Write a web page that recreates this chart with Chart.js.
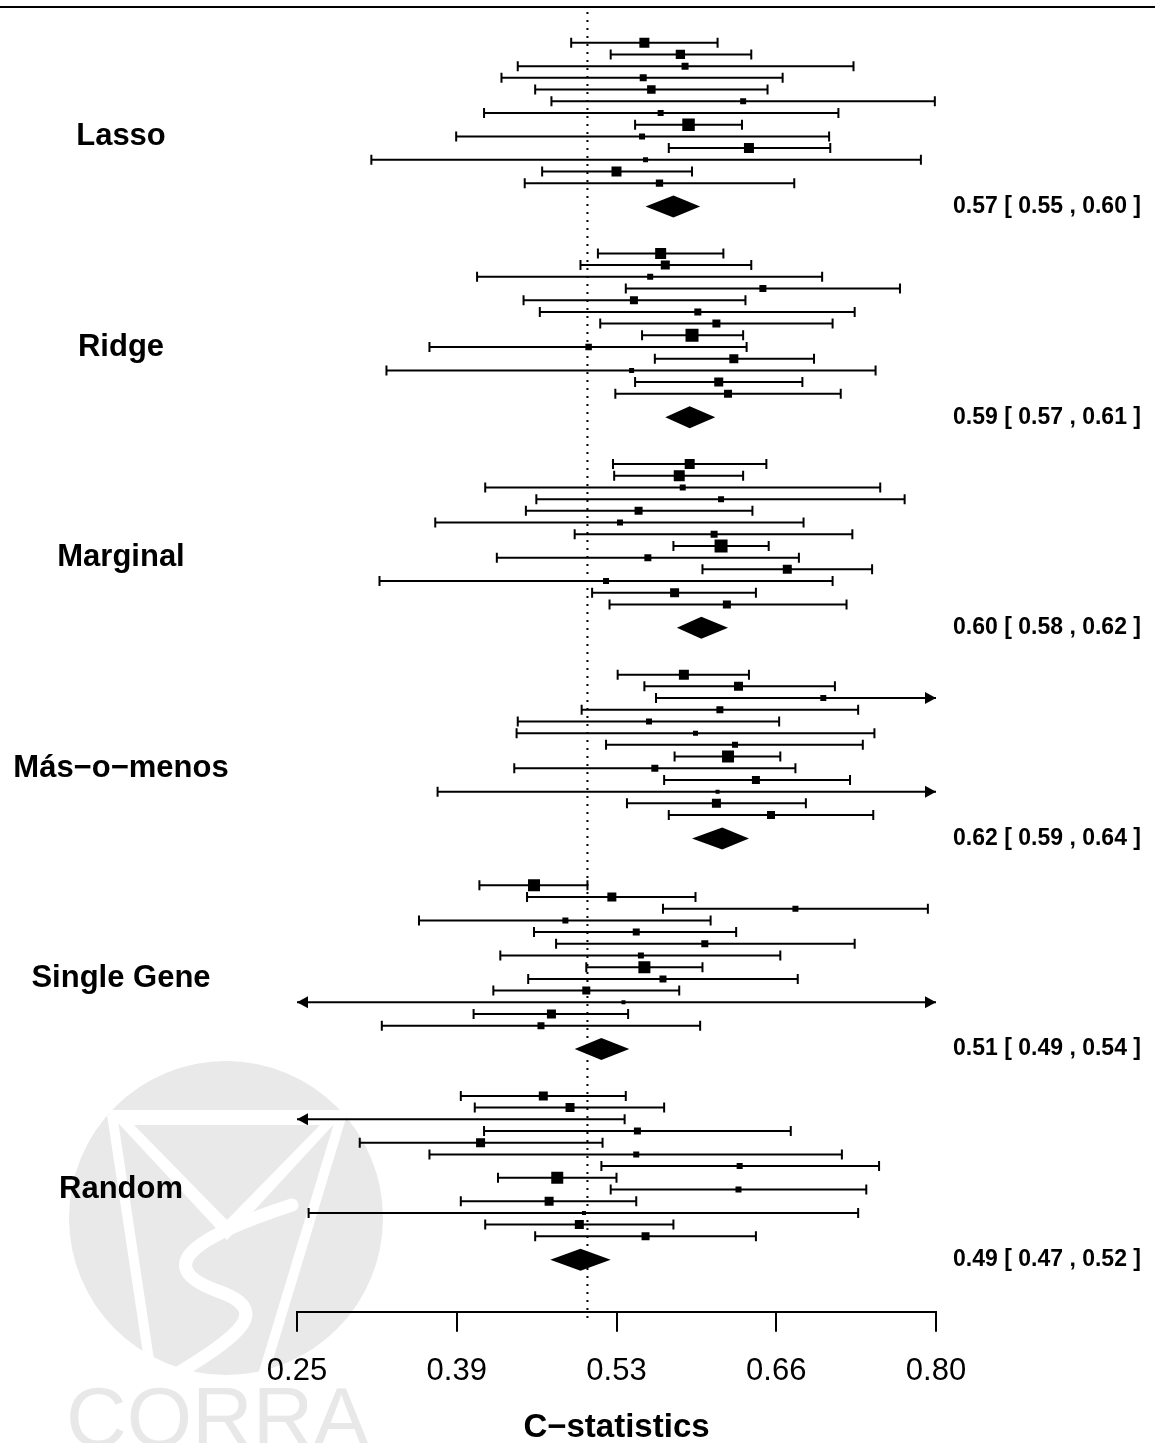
<!DOCTYPE html>
<html>
<head>
<meta charset="utf-8">
<script src="https://cdn.jsdelivr.net/npm/chart.js@4.4.1/dist/chart.umd.min.js"></script>
<style>
  html, body { margin: 0; padding: 0; background: #fff; }
  #wrap { width: 1155px; height: 1443px; position: relative; }
</style>
</head>
<body>
<div id="wrap"><canvas id="forest"></canvas></div>
<script>
// groups, top to bottom
const groupNames = ['Lasso', 'Ridge', 'Marginal', 'Más−o−menos', 'Single Gene', 'Random'];

// study rows: [lower, c-statistic, upper]
const lasso = [
  [0.486, 0.549, 0.612], [0.520, 0.580, 0.641], [0.440, 0.584, 0.729], [0.426, 0.548, 0.668],
  [0.455, 0.555, 0.655], [0.469, 0.634, 0.799], [0.411, 0.563, 0.716], [0.541, 0.587, 0.633],
  [0.387, 0.547, 0.708], [0.570, 0.639, 0.709], [0.314, 0.550, 0.787], [0.461, 0.525, 0.590],
  [0.446, 0.562, 0.678]
];
const ridge = [
  [0.509, 0.563, 0.617], [0.494, 0.567, 0.641], [0.405, 0.554, 0.702], [0.533, 0.651, 0.769],
  [0.445, 0.540, 0.636], [0.459, 0.595, 0.730], [0.511, 0.611, 0.711], [0.547, 0.590, 0.634],
  [0.364, 0.501, 0.637], [0.558, 0.626, 0.695], [0.327, 0.538, 0.748], [0.541, 0.613, 0.685],
  [0.524, 0.621, 0.718]
];
const marginal = [
  [0.522, 0.588, 0.654], [0.523, 0.579, 0.634], [0.412, 0.582, 0.752], [0.456, 0.615, 0.773],
  [0.447, 0.544, 0.642], [0.369, 0.528, 0.686], [0.489, 0.609, 0.728], [0.574, 0.615, 0.656],
  [0.422, 0.552, 0.682], [0.599, 0.672, 0.745], [0.321, 0.516, 0.711], [0.504, 0.575, 0.645],
  [0.519, 0.620, 0.723]
];
const masOMenos = [
  [0.526, 0.583, 0.639], [0.549, 0.630, 0.713], [0.559, 0.703, 0.847], [0.495, 0.614, 0.733],
  [0.440, 0.553, 0.665], [0.439, 0.593, 0.747], [0.516, 0.627, 0.737], [0.575, 0.621, 0.666],
  [0.437, 0.558, 0.679], [0.566, 0.645, 0.726], [0.371, 0.612, 0.853], [0.534, 0.611, 0.688],
  [0.570, 0.658, 0.746]
];
const singleGene = [
  [0.407, 0.454, 0.500], [0.448, 0.521, 0.593], [0.565, 0.679, 0.793], [0.355, 0.481, 0.606],
  [0.454, 0.542, 0.628], [0.473, 0.601, 0.730], [0.425, 0.546, 0.666], [0.499, 0.549, 0.599],
  [0.449, 0.565, 0.681], [0.419, 0.499, 0.579], [0.200, 0.531, 0.860], [0.402, 0.469, 0.535],
  [0.323, 0.460, 0.597]
];
const random = [
  [0.391, 0.462, 0.533], [0.403, 0.485, 0.566], [-0.050, 0.240, 0.532], [0.411, 0.543, 0.675],
  [0.304, 0.408, 0.513], [0.364, 0.542, 0.719], [0.512, 0.631, 0.751], [0.423, 0.474, 0.525],
  [0.520, 0.630, 0.740], [0.391, 0.467, 0.542], [0.260, 0.497, 0.733], [0.412, 0.493, 0.574],
  [0.455, 0.550, 0.645]
];

// relative study weights (box size)
const lassoW      = [10, 9.3, 7, 7, 8.5, 6, 6, 12.5, 6, 10, 5, 10, 7.3];
const ridgeW      = [11, 9, 6, 7, 8, 7, 8, 13, 6.5, 9, 5, 9, 8];
const marginalW   = [10, 11, 6, 6, 8, 6, 7, 13, 7, 9, 6, 9, 8];
const masOMenosW  = [10, 9, 6, 7, 6, 5, 6, 12, 7, 8, 4, 9, 8];
const singleGeneW = [12, 9, 6, 6, 7, 7, 6, 12, 7, 8, 4, 9, 7];
const randomW     = [9, 9, 6, 7, 9, 6, 6, 12, 6, 9, 4, 9, 8];

// pooled estimates per group
const summaryEst = [0.574, 0.588, 0.598, 0.616, 0.512, 0.494];
const summaryLo  = [0.550, 0.567, 0.577, 0.590, 0.489, 0.468];
const summaryHi  = [0.597, 0.610, 0.621, 0.639, 0.536, 0.520];

const tickValues = [0.25, 0.3875, 0.525, 0.6625, 0.80];
const tickLabels = ['0.25', '0.39', '0.53', '0.66', '0.80'];
const refValue = 0.5;

const studies = [lasso, ridge, marginal, masOMenos, singleGene, random];
const weights = [lassoW, ridgeW, marginalW, masOMenosW, singleGeneW, randomW];

const ROWS_PER_GROUP = 18;   // 13 studies, gap, diamond, spacing
const SUMMARY_ROW = 14;
const LABEL_ROW = 8;
const X_MIN = tickValues[0], X_MAX = tickValues[tickValues.length - 1];
const FONT = "'Liberation Sans', Arial, Helvetica, sans-serif";

// points for the boxes
const points = [];
const radii = [];
studies.forEach((g, gi) => {
  g.forEach((s, si) => {
    if (s[1] < X_MIN || s[1] > X_MAX) return;
    points.push({ x: s[1], y: gi * ROWS_PER_GROUP + si });
    radii.push(weights[gi][si] / Math.SQRT2);
  });
});

function drawWatermark(ctx) {
  ctx.save();
  ctx.fillStyle = '#e9e9e9';
  ctx.beginPath();
  ctx.arc(226, 1218, 157, 0, Math.PI * 2);
  ctx.fill();
  ctx.fillStyle = '#ffffff';
  ctx.beginPath();
  ctx.moveTo(106, 1110); ctx.lineTo(347, 1110); ctx.lineTo(227, 1240);
  ctx.closePath(); ctx.fill();
  ctx.fillStyle = '#e9e9e9';
  ctx.beginPath();
  ctx.moveTo(134, 1125); ctx.lineTo(320, 1125); ctx.lineTo(227, 1220);
  ctx.closePath(); ctx.fill();
  ctx.strokeStyle = '#ffffff';
  ctx.lineWidth = 10;
  ctx.beginPath();
  ctx.moveTo(112, 1114); ctx.lineTo(158, 1420);
  ctx.moveTo(342, 1114); ctx.lineTo(248, 1425);
  ctx.stroke();
  ctx.lineWidth = 13;
  ctx.lineCap = 'round';
  ctx.beginPath();
  ctx.moveTo(292, 1205);
  ctx.bezierCurveTo(200, 1235, 150, 1265, 215, 1290);
  ctx.bezierCurveTo(275, 1310, 240, 1335, 175, 1375);
  ctx.stroke();
  ctx.fillStyle = '#e8e8e8';
  ctx.font = '84px ' + FONT;
  ctx.textBaseline = 'alphabetic';
  ctx.fillText('CORRA', 66, 1446);
  ctx.restore();
}

function arrowHead(ctx, xTip, yy, dir) {
  ctx.beginPath();
  ctx.moveTo(xTip, yy);
  ctx.lineTo(xTip + dir * 11, yy - 6);
  ctx.lineTo(xTip + dir * 11, yy + 6);
  ctx.closePath();
  ctx.fill();
}

const forestMarks = {
  id: 'forestMarks',
  beforeDraw(chart) {
    const ctx = chart.ctx;
    drawWatermark(ctx);
    ctx.save();
    ctx.fillStyle = '#000';
    ctx.fillRect(0, 6, chart.width, 2);
    ctx.restore();
  },
  beforeDatasetsDraw(chart) {
    const { ctx, chartArea } = chart;
    const x = chart.scales.x, y = chart.scales.y;
    ctx.save();

    // reference line at 0.5
    const xr = x.getPixelForValue(refValue);
    ctx.strokeStyle = '#000';
    ctx.lineWidth = 2;
    ctx.setLineDash([2, 6]);
    ctx.beginPath();
    ctx.moveTo(xr, 12);
    ctx.lineTo(xr, chartArea.bottom + 9);
    ctx.stroke();
    ctx.setLineDash([]);

    ctx.fillStyle = '#000';
    studies.forEach((g, gi) => {
      g.forEach((s, si) => {
        const yy = y.getPixelForValue(gi * ROWS_PER_GROUP + si);
        const xl = Math.max(x.getPixelForValue(s[0]), chartArea.left);
        const xh = Math.min(x.getPixelForValue(s[2]), chartArea.right);
        ctx.lineWidth = 2;
        ctx.beginPath();
        ctx.moveTo(xl, yy);
        ctx.lineTo(xh, yy);
        if (s[0] >= X_MIN) { ctx.moveTo(xl, yy - 5); ctx.lineTo(xl, yy + 5); }
        if (s[2] <= X_MAX) { ctx.moveTo(xh, yy - 5); ctx.lineTo(xh, yy + 5); }
        ctx.stroke();
        if (s[0] < X_MIN) arrowHead(ctx, xl, yy, 1);
        if (s[2] > X_MAX) arrowHead(ctx, xh, yy, -1);
      });
    });

    // pooled diamonds and their labels
    summaryEst.forEach((est, gi) => {
      const yy = y.getPixelForValue(gi * ROWS_PER_GROUP + SUMMARY_ROW);
      ctx.beginPath();
      ctx.moveTo(x.getPixelForValue(summaryLo[gi]), yy);
      ctx.lineTo(x.getPixelForValue(est), yy - 11);
      ctx.lineTo(x.getPixelForValue(summaryHi[gi]), yy);
      ctx.lineTo(x.getPixelForValue(est), yy + 11);
      ctx.closePath();
      ctx.fill();

      ctx.font = 'bold 23px ' + FONT;
      ctx.textAlign = 'right';
      ctx.textBaseline = 'middle';
      const txt = est.toFixed(2) + ' [ ' + summaryLo[gi].toFixed(2) + ' , ' + summaryHi[gi].toFixed(2) + ' ]';
      ctx.fillText(txt, 1141, yy);
    });

    // group names on the left
    ctx.font = 'bold 31px ' + FONT;
    ctx.textAlign = 'center';
    ctx.textBaseline = 'middle';
    groupNames.forEach((name, gi) => {
      ctx.fillText(name, 121, y.getPixelForValue(gi * ROWS_PER_GROUP + LABEL_ROW));
    });
    ctx.restore();
  }
};

new Chart(document.getElementById('forest'), {
  type: 'scatter',
  data: {
    datasets: [{
      data: points,
      pointStyle: 'rect',
      pointRadius: radii,
      pointHoverRadius: radii,
      backgroundColor: '#000',
      borderWidth: 0
    }]
  },
  options: {
    responsive: true,
    maintainAspectRatio: false,
    animation: false,
    devicePixelRatio: 1,
    layout: { padding: { left: 297, right: 219, top: 10, bottom: -1 } },
    plugins: {
      legend: { display: false },
      tooltip: { enabled: false }
    },
    scales: {
      x: {
        type: 'linear',
        min: X_MIN,
        max: X_MAX,
        afterBuildTicks: (scale) => {
          scale.ticks = tickValues.map(v => ({ value: v }));
        },
        ticks: {
          callback: (val, idx) => tickLabels[idx],
          color: '#000',
          font: { family: FONT, size: 31 },
          padding: 21,
          maxRotation: 0,
          autoSkip: false
        },
        grid: {
          drawOnChartArea: false,
          drawTicks: true,
          tickLength: 20,
          color: '#000',
          lineWidth: 2
        },
        border: { display: true, color: '#000', width: 2 },
        title: {
          display: true,
          text: 'C−statistics',
          color: '#000',
          font: { family: FONT, size: 33, weight: 'bold', lineHeight: 1 },
          padding: { top: 0, bottom: 0 }
        }
      },
      y: {
        type: 'linear',
        reverse: true,
        min: -2.8,
        max: 108.45,
        display: false
      }
    }
  },
  plugins: [forestMarks]
});
</script>
</body>
</html>
